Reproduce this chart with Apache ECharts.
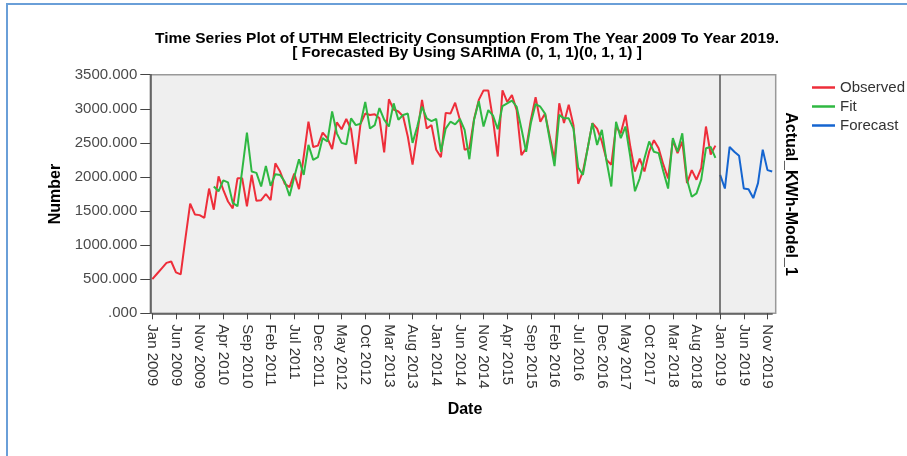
<!DOCTYPE html>
<html>
<head>
<meta charset="utf-8">
<script src="https://cdn.jsdelivr.net/npm/echarts@6/dist/echarts.min.js"></script>
<style>
  html, body { margin: 0; padding: 0; background: #fff; }
  #main { width: 907px; height: 456px; }
</style>
</head>
<body>
<div id="main"></div>
<script type="text/javascript">
	var monthNames = ['Jan','Feb','Mar','Apr','May','Jun','Jul','Aug','Sep','Oct','Nov','Dec'];
	var years = [2009,2010,2011,2012,2013,2014,2015,2016,2017,2018,2019];

	// observed KWh, Jan 2009 - Dec 2018
	var observed = [
		500, 580, 660, 740, 760, 600, 570, 1100, 1610, 1450, 1440, 1400,
		1830, 1520, 2010, 1810, 1640, 1540, 1980, 1980, 1570, 2030, 1650, 1660,
		1750, 1660, 2200, 2080, 1900, 1850, 2050, 1820, 2300, 2810, 2440, 2460,
		2650, 2570, 2410, 2800, 2700, 2850, 2700, 2190, 2780, 2930, 2910, 2920,
		2860, 2360, 3140, 2990, 2960, 2890, 2590, 2180, 2640, 3130, 2710, 2760,
		2400, 2290, 2940, 2930, 3090, 2840, 2400, 2420, 2850, 3130, 3270, 3270,
		2840, 2300, 3270, 3100, 3200, 2980, 2320, 2420, 2840, 3170, 2810, 2930,
		2590, 2250, 3080, 2790, 3060, 2760, 1900, 2080, 2420, 2790, 2710, 2520,
		2250, 2180, 2740, 2640, 2910, 2450, 2080, 2270, 2080, 2370, 2540, 2420,
		2180, 1980, 2540, 2350, 2520, 1910, 2100, 1960, 2130, 2740, 2330, 2460
	];
	// model fit, Feb 2010 - Dec 2018
	var fitStart = 13;
	var fit = [
		1860, 1790, 1950, 1920, 1620, 1570, 2100, 2650, 2080, 2060, 1860,
		2160, 1870, 2040, 2030, 1930, 1720, 2000, 2260, 2030, 2470, 2250, 2290,
		2570, 2520, 2960, 2640, 2500, 2480, 2860, 2760, 2780, 3100, 2710, 2760,
		3010, 2840, 2740, 3080, 2840, 2910, 2930, 2500, 2740, 3030, 2860, 2820,
		2850, 2370, 2710, 2810, 2770, 2850, 2690, 2260, 2840, 3110, 2740, 2980,
		2900, 2700, 3040, 3080, 3120, 3030, 2710, 2370, 2790, 3070, 3030, 2930,
		2540, 2160, 2910, 2860, 2860, 2710, 2140, 2030, 2420, 2790, 2470, 2690,
		2230, 1860, 2810, 2570, 2740, 2300, 1790, 1980, 2270, 2520, 2370, 2350,
		2080, 1830, 2570, 2370, 2640, 1960, 1710, 1760, 1960, 2420, 2440, 2280
	];
	// forecast, Jan 2019 - Dec 2019
	var forecast = [2030, 1830, 2440, 2370, 2310, 1830, 1820, 1690, 1910, 2400, 2100, 2080];
	var yTicks = [0, 500, 1000, 1500, 2000, 2500, 3000, 3500];

	var dates = [];
	for (var y = 0; y < years.length; y++) {
		for (var m = 0; m < 12; m++) {
			dates.push(monthNames[m] + ' ' + years[y]);
		}
	}
	function pad(arr, before, total) {
		var out = [];
		for (var i = 0; i < total; i++) {
			var k = i - before;
			out.push(k >= 0 && k < arr.length ? arr[k] : null);
		}
		return out;
	}
	var n = dates.length;
	var obsData = pad(observed, 0, n);
	var fitData = pad(fit, fitStart, n);
	var fcData = pad(forecast, observed.length, n);

	var gLeft = 152.3, gTop = 74.7, gRight = 772.2, gBottom = 313.3;

	var myChart = echarts.init(document.getElementById('main'), null, {renderer: 'canvas'});
	myChart.setOption({
		animation: false,
		textStyle: { fontFamily: '"Liberation Sans", Arial, sans-serif' },
		title: {
			text: 'Time Series Plot of UTHM Electricity Consumption From The Year 2009 To Year 2019.\n[ Forecasted By Using SARIMA (0, 1, 1)(0, 1, 1) ]',
			left: 462,
			top: 27,
			textAlign: 'center',
			textStyle: { fontSize: 15.5, fontWeight: 'bold', color: '#000', lineHeight: 14 }
		},
		legend: {
			orient: 'vertical',
			left: 807,
			top: 75,
			icon: 'rect',
			itemWidth: 23,
			itemHeight: 2.5,
			itemGap: 4,
			textStyle: { fontSize: 15, color: '#333' },
			data: ['Observed', 'Fit', 'Forecast']
		},
		grid: {
			left: gLeft,
			top: gTop,
			right: 907 - gRight,
			bottom: 456 - gBottom
		},
		graphic: [
			{ type: 'rect', z: -10, silent: true,
			  shape: { x: 7, y: 4, width: 930, height: 480 },
			  style: { fill: 'none', stroke: '#6a9fd8', lineWidth: 2 } },
			{ type: 'rect', z: -5, silent: true,
			  shape: { x: 150.3, y: gTop, width: 775.7 - 150.3, height: gBottom - gTop },
			  style: { fill: '#efefef', stroke: '#999', lineWidth: 1.5 } },
			{ type: 'text', x: 56, y: 194, rotation: Math.PI / 2, silent: true,
			  style: { text: 'Number', font: 'bold 16px "Liberation Sans", Arial', fill: '#000', textAlign: 'center', textVerticalAlign: 'middle' } },
			{ type: 'text', x: 465, y: 410, silent: true,
			  style: { text: 'Date', font: 'bold 16px "Liberation Sans", Arial', fill: '#000', textAlign: 'center', textVerticalAlign: 'middle' } },
			{ type: 'text', x: 790, y: 194, rotation: -Math.PI / 2, silent: true,
			  style: { text: 'Actual_KWh-Model_1', font: 'bold 16px "Liberation Sans", Arial', fill: '#000', textAlign: 'center', textVerticalAlign: 'middle' } }
		],
		xAxis: {
			type: 'category',
			data: dates,
			boundaryGap: false,
			axisLine: { show: true, lineStyle: { color: '#555', width: 1.5 } },
			axisTick: { show: true, interval: 4, length: 6, lineStyle: { color: '#444' } },
			axisLabel: { interval: 4, rotate: -90, margin: 11, fontSize: 15, color: '#333' },
			splitLine: { show: false }
		},
		yAxis: {
			type: 'value',
			min: yTicks[0],
			max: yTicks[yTicks.length - 1],
			interval: 500,
			offset: 2,
			axisLine: { show: true, lineStyle: { color: '#555', width: 1.5 } },
			axisTick: { show: true, length: 10, lineStyle: { color: '#444' } },
			axisLabel: {
				fontSize: 15, color: '#4a4a4a', margin: 13,
				formatter: function (value) {
					return value === 0 ? '.000' : value.toFixed(3);
				}
			},
			splitLine: { show: false }
		},
		series: [{
			name: 'Observed',
			type: 'line',
			data: obsData,
			symbol: 'none',
			color: '#ee2e3a',
			lineStyle: { width: 2 }
		}, {
			name: 'Fit',
			type: 'line',
			data: fitData,
			symbol: 'none',
			color: '#2fb842',
			lineStyle: { width: 2 }
		}, {
			name: 'Forecast',
			type: 'line',
			data: fcData,
			symbol: 'none',
			color: '#1565d0',
			lineStyle: { width: 2 },
			markLine: {
				silent: true,
				symbol: 'none',
				label: { show: false },
				lineStyle: { color: '#555', type: 'solid', width: 1.5 },
				data: [{ xAxis: 'Jan 2019' }]
			}
		}]
	});
	window.onresize = myChart.resize;
</script>
</body>
</html>
